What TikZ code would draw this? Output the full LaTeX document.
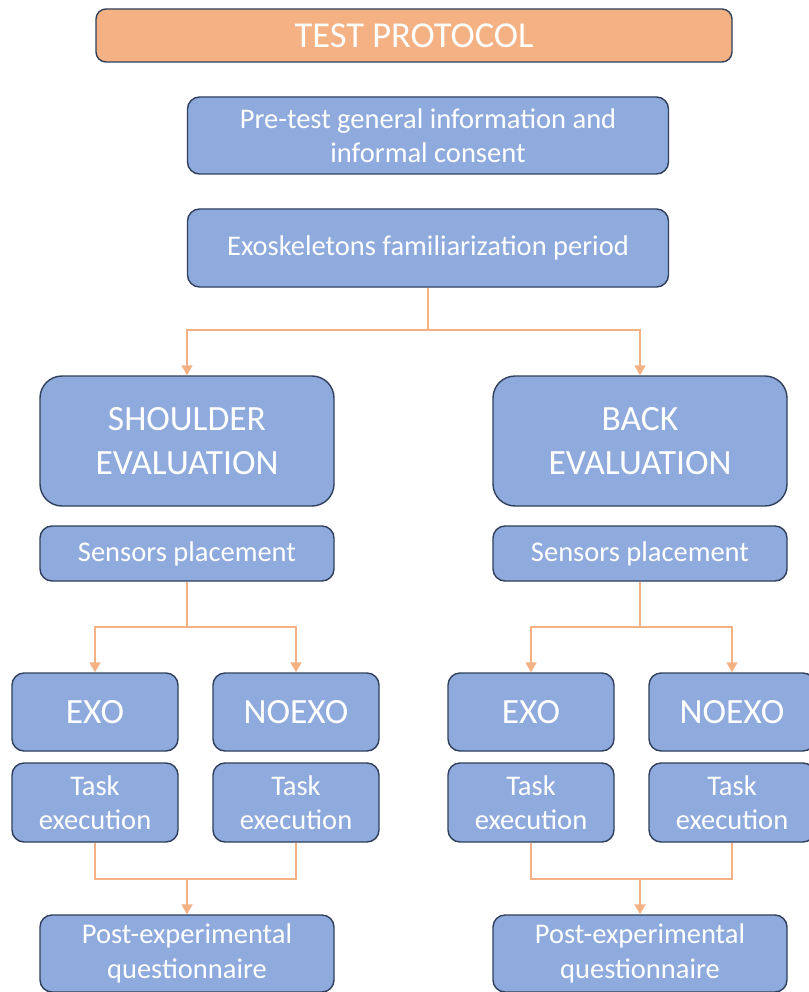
\documentclass[tikz,border=0pt]{standalone}
\usepackage{fontspec}
\setmainfont{Carlito}
\usetikzlibrary{arrows.meta}
\definecolor{boxblue}{HTML}{8FAADC}
\definecolor{boxedge}{HTML}{2F3F5C}
\definecolor{peach}{HTML}{F4B183}
\tikzset{
  px/.style={x=1pt,y=-1pt},
  bx/.style={draw=boxedge, line width=1.4pt, fill=boxblue, rounded corners=12pt,
    inner sep=0pt, align=center, text=white, font=\fontsize{28.5}{34.5}\selectfont},
  bigbx/.style={bx, rounded corners=22pt, font=\fontsize{35.5}{44}\selectfont},
  midbx/.style={bx, font=\fontsize{35.5}{42}\selectfont},
  titlebx/.style={bx, fill=peach, rounded corners=10pt, font=\fontsize{36.5}{42}\selectfont},
  link/.style={draw=peach, line width=1.8pt},
  arr/.style={link, -{Triangle[length=10pt,width=11pt]}}
}
\begin{document}
\begin{tikzpicture}[px]
\useasboundingbox (0,0) rectangle (808,992);
\node[titlebx, minimum width=636pt, minimum height=53pt] (title) at (414,35.5) {TEST PROTOCOL};
\node[bx, minimum width=481pt, minimum height=77pt] (pre) at (428,135.5) {Pre-test general information and\\informal consent};
\node[bx, minimum width=481pt, minimum height=78pt] (fam) at (428,248) {Exoskeletons familiarization period};
\node[bigbx, minimum width=294pt, minimum height=130pt] (shoulder) at (187,441) {SHOULDER\\EVALUATION};
\node[bigbx, minimum width=294pt, minimum height=130pt] (back) at (640,441) {BACK\\EVALUATION};
\node[bx, minimum width=294pt, minimum height=55pt] (sensL) at (187,553.5) {Sensors placement};
\node[bx, minimum width=294pt, minimum height=55pt] (sensR) at (640,553.5) {Sensors placement};
\node[midbx, minimum width=166pt, minimum height=78pt] (exoL) at (95,712) {EXO};
\node[midbx, minimum width=166pt, minimum height=78pt] (noexoL) at (296,712) {NOEXO};
\node[midbx, minimum width=166pt, minimum height=78pt] (exoR) at (531,712) {EXO};
\node[midbx, minimum width=166pt, minimum height=78pt] (noexoR) at (732,712) {NOEXO};
\node[bx, minimum width=166pt, minimum height=79pt] (taskL1) at (95,802.5) {Task\\execution};
\node[bx, minimum width=166pt, minimum height=79pt] (taskL2) at (296,802.5) {Task\\execution};
\node[bx, minimum width=166pt, minimum height=79pt] (taskR1) at (531,802.5) {Task\\execution};
\node[bx, minimum width=166pt, minimum height=79pt] (taskR2) at (732,802.5) {Task\\execution};
\node[bx, minimum width=294pt, minimum height=77pt] (postL) at (187,953.5) {Post-experimental\\questionnaire};
\node[bx, minimum width=294pt, minimum height=77pt] (postR) at (640,953.5) {Post-experimental\\questionnaire};
\coordinate (j1) at (428,330);
\coordinate (jL) at (187,627);
\coordinate (jR) at (640,627);
\coordinate (kL) at (187,879);
\coordinate (kR) at (640,879);
\draw[arr] (fam.south) -- (j1) -| (shoulder.north);
\draw[arr] (j1) -| (back.north);
\draw[arr] (sensL.south) -- (jL) -| (exoL.north);
\draw[arr] (jL) -| (noexoL.north);
\draw[arr] (sensR.south) -- (jR) -| (exoR.north);
\draw[arr] (jR) -| (noexoR.north);
\draw[link] (taskL1.south) |- (kL) -| (taskL2.south);
\draw[arr] (kL) -- (postL.north);
\draw[link] (taskR1.south) |- (kR) -| (taskR2.south);
\draw[arr] (kR) -- (postR.north);
\end{tikzpicture}
\end{document}
